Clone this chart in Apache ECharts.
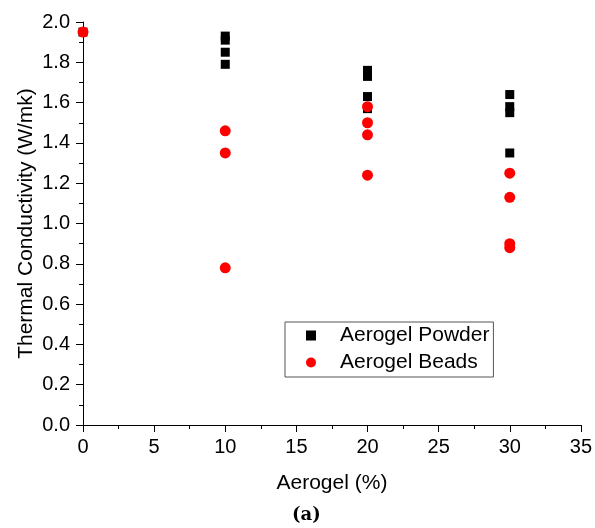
<!DOCTYPE html>
<html>
<head>
<meta charset="utf-8">
<script src="https://cdn.jsdelivr.net/npm/echarts@6/dist/echarts.min.js"></script>
<style>
  html, body { margin: 0; padding: 0; background: #fff; }
  #chart { width: 595px; height: 528px; }
</style>
</head>
<body>
<div id="chart"></div>
<script>
// data
const powderData = [
  [0, 1.95], [10, 1.93], [10, 1.91], [10, 1.85], [10, 1.79],
  [20, 1.76], [20, 1.73], [20, 1.63], [20, 1.57],
  [30, 1.64], [30, 1.58], [30, 1.55], [30, 1.35]
]
const beadsData = [
  [0, 1.95], [10, 1.46], [10, 1.35], [10, 0.78],
  [20, 1.58], [20, 1.50], [20, 1.44], [20, 1.24],
  [30, 1.25], [30, 1.13], [30, 0.90], [30, 0.88]
]
const seriesNames = ['Aerogel Powder', 'Aerogel Beads']

const font = 'Liberation Sans, Arial, sans-serif'
const chart = echarts.init(document.getElementById('chart'))

const axisCommon = {
  type: 'value',
  nameLocation: 'middle',
  nameMoveOverlap: false,
  nameTextStyle: { fontFamily: font, fontSize: 21, color: '#000' },
  axisLine: { show: true, lineStyle: { color: '#000', width: 1 } },
  axisTick: { show: true, length: 7, lineStyle: { color: '#000' } },
  minorTick: { show: true, splitNumber: 2, length: 4, lineStyle: { color: '#000' } },
  splitLine: { show: false }
}

chart.setOption({
  animation: false,
  grid: { left: 83, right: 12, top: 22, bottom: 103 },
  legend: {
    orient: 'vertical',
    left: 285,
    top: 322,
    padding: [3, 4, 4, 21],
    itemGap: 6,
    itemWidth: 10,
    itemHeight: 10,
    borderColor: '#555',
    borderWidth: 1,
    data: seriesNames,
    textStyle: { fontFamily: font, fontSize: 21, color: '#000', padding: [0, 0, 0, 19] }
  },
  xAxis: {
    ...axisCommon,
    min: 0,
    max: 35,
    interval: 5,
    name: 'Aerogel (%)',
    nameGap: 48,
    axisLabel: { fontFamily: font, fontSize: 20, color: '#000', margin: 12 }
  },
  yAxis: {
    ...axisCommon,
    min: 0,
    max: 2,
    interval: 0.2,
    name: 'Thermal Conductivity (W/mk)',
    nameGap: 46,
    axisLabel: {
      fontFamily: font, fontSize: 20, color: '#000', margin: 13,
      formatter: v => v.toFixed(1)
    }
  },
  graphic: [{
    type: 'text',
    left: 292,
    top: 506,
    style: {
      text: '(a)',
      font: 'bold 18px "DejaVu Serif", serif',
      fill: '#000'
    }
  }],
  series: [{
    name: seriesNames[0],
    type: 'scatter',
    symbol: 'rect',
    symbolSize: 9,
    itemStyle: { color: '#000', opacity: 1 },
    data: powderData
  }, {
    name: seriesNames[1],
    type: 'scatter',
    symbol: 'circle',
    symbolSize: 11,
    itemStyle: { color: '#ff0000', opacity: 1 },
    data: beadsData
  }]
})
</script>
</body>
</html>
